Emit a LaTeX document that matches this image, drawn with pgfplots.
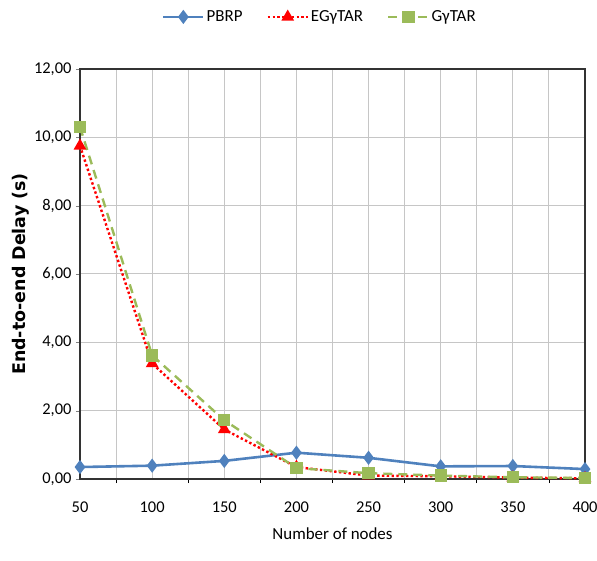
\documentclass[border=0pt]{standalone}
\usepackage{pgfplots}
\pgfplotsset{compat=1.18}
\usepackage{fontspec}
\setmainfont{Carlito}
\newfontfamily\ylabfont{DejaVu Sans}
\definecolor{pbrp}{RGB}{79,129,189}
\definecolor{egy}{RGB}{255,0,0}
\definecolor{gy}{RGB}{155,187,89}
\begin{document}
\begin{tikzpicture}[x=1bp,y=1bp]
\path[use as bounding box] (-80bp,-82bp) rectangle (517bp,479bp);
\begin{axis}[
  scale only axis,
  width=505bp, height=410bp,
  at={(0,0)}, anchor=origin,
  xmin=50, xmax=400, ymin=0, ymax=12,
  xtick={50,100,...,400},
  minor xtick={75,125,...,375},
  ytick={0,2,...,12},
  major x tick style={draw=none},
  minor x tick style={black, thick},
  minor tick length=4bp,
  major tick length=4bp,
  tick align=outside,
  xtick pos=bottom, ytick pos=left,
  xmajorgrids, xminorgrids, ymajorgrids,
  major grid style={gray!45, line width=1bp},
  minor grid style={gray!45, line width=1bp},
  axis line style={black!80, line width=1.2bp},
  /pgf/number format/assume math mode=true,
  yticklabel style={/pgf/number format/.cd, fixed, fixed zerofill, precision=2, use comma, /tikz/.cd, font=\fontsize{16.5}{18}\selectfont, xshift=-1bp},
  xticklabel style={font=\fontsize{16.5}{18}\selectfont, yshift=-15bp},
  scaled y ticks=false,
  xlabel={Number of nodes},
  xlabel style={font=\fontsize{17}{19}\selectfont, yshift=-9bp},
  ylabel={End-to-end Delay (s)},
  ylabel style={font=\ylabfont\bfseries\fontsize{17.5}{19}\selectfont, yshift=-2bp},
  legend columns=3,
  legend style={at={(0.475,1.127)}, anchor=center, draw=none, fill=none,
    font=\fontsize{17}{19}\selectfont,
    /tikz/every even column/.append style={column sep=22bp}},
  legend image code/.code={
    \draw[#1, mark repeat=2, mark phase=2] plot coordinates {(0bp,0bp) (20bp,0bp) (40bp,0bp)};
  },
]
\addplot[pbrp, line width=2.6bp, mark=diamond*, mark size=5bp, mark options={solid, fill=pbrp}]
  coordinates {(50,0.35) (100,0.39) (150,0.53) (200,0.77) (250,0.62) (300,0.37) (350,0.38) (400,0.29)};
\addlegendentry{PBRP}
\addplot[egy, line width=2.4bp, dash pattern=on 2.4bp off 2.4bp, mark=triangle*, mark size=5bp, mark options={solid, fill=egy}]
  coordinates {(50,9.75) (100,3.38) (150,1.45) (200,0.35) (250,0.10) (300,0.08) (350,0.04) (400,0.02)};
\addlegendentry{EGγTAR}
\addplot[gy, line width=2.4bp, dash pattern=on 9bp off 6bp, mark=square*, mark size=5bp, mark options={solid, fill=gy}]
  coordinates {(50,10.3) (100,3.62) (150,1.72) (200,0.32) (250,0.17) (300,0.10) (350,0.05) (400,0.03)};
\addlegendentry{GγTAR}
\end{axis}
\end{tikzpicture}
\end{document}
